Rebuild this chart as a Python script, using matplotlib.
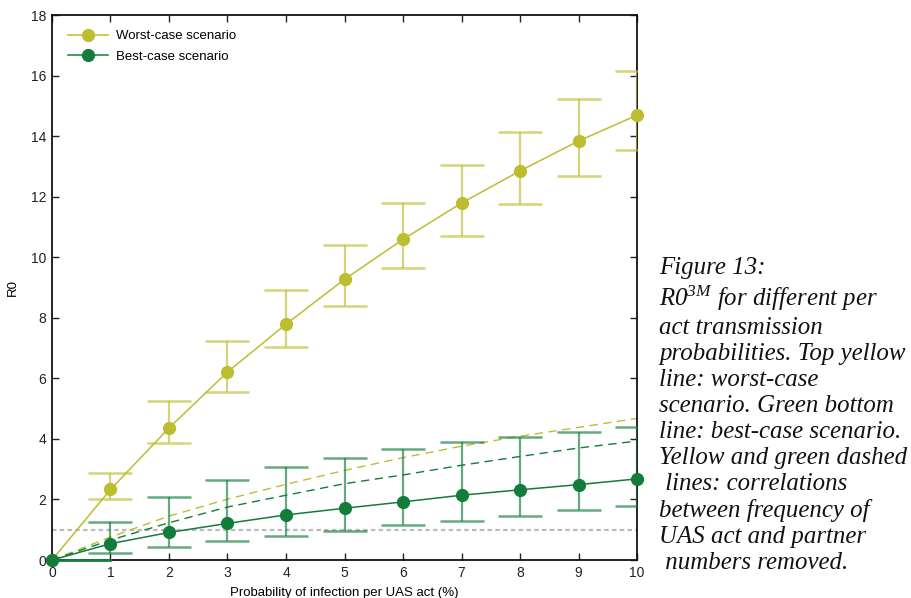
import matplotlib
matplotlib.use("Agg")
import matplotlib.pyplot as plt

# Per-act infection probability (%)
prob = [0, 1, 2, 3, 4, 5, 6, 7, 8, 9, 10]

# Worst-case scenario: R0 with lower / upper bounds
worst = [0, 2.33, 4.36, 6.21, 7.79, 9.27, 10.59, 11.79, 12.85, 13.84, 14.69]
worst_lo = [0, 2.03, 3.88, 5.55, 7.03, 8.39, 9.64, 10.70, 11.76, 12.68, 13.53]
worst_hi = [0, 2.89, 5.26, 7.23, 8.92, 10.40, 11.78, 13.03, 14.15, 15.21, 16.16]

# Best-case scenario: R0 with lower / upper bounds
best = [0, 0.54, 0.91, 1.21, 1.49, 1.71, 1.92, 2.14, 2.32, 2.49, 2.68]
best_lo = [0, 0.23, 0.44, 0.62, 0.79, 0.97, 1.15, 1.30, 1.46, 1.65, 1.78]
best_hi = [0, 1.26, 2.07, 2.64, 3.06, 3.38, 3.67, 3.89, 4.06, 4.24, 4.38]

# Correlations between UAS act frequency and partner numbers removed
worst_nocorr = [0, 0.76, 1.45, 2.01, 2.50, 2.96, 3.38, 3.76, 4.09, 4.38, 4.68]
best_nocorr = [0, 0.66, 1.23, 1.75, 2.14, 2.52, 2.81, 3.13, 3.42, 3.70, 3.93]

threshold = 1.0

YELLOW = "#BDBD30"
GREEN = "#127D3B"

plt.rcParams["font.family"] = ["Liberation Sans", "DejaVu Sans"]
plt.rcParams["mathtext.fontset"] = "custom"
plt.rcParams["mathtext.it"] = "Liberation Serif:italic"
plt.rcParams["mathtext.rm"] = "Liberation Serif:italic"

fig = plt.figure(figsize=(9.12, 5.98), dpi=100)
ax = fig.add_axes([0.057, 0.0635, 0.6415, 0.9114])

ax.axhline(threshold, color="#BBBBBB", lw=1.6, ls=(0, (2, 1.5)), zorder=1)

ax.plot(prob, worst_nocorr, color=YELLOW, lw=1.0, ls=(0, (6, 4)), zorder=2)
ax.plot(prob, best_nocorr, color=GREEN, lw=1.0, ls=(0, (6, 4)), zorder=2)

def bounds(mid, lo, hi):
    return [[m - l for m, l in zip(mid, lo)], [h - m for m, h in zip(mid, hi)]]

for y, lo, hi, c, lab in [(worst, worst_lo, worst_hi, YELLOW, "Worst-case scenario"),
                          (best, best_lo, best_hi, GREEN, "Best-case scenario")]:
    ax.errorbar(prob[1:], y[1:], yerr=bounds(y[1:], lo[1:], hi[1:]), fmt="none",
                ecolor=c, alpha=0.65, elinewidth=1.6, capsize=15.5, capthick=1.8,
                zorder=3)
    ax.plot(prob, y, color=c, lw=1.1, marker="o", ms=8.5, label=lab, zorder=4,
            clip_on=False)

ax.plot(prob[:2], [0, 0], color=GREEN, lw=2.0, zorder=4, clip_on=False)

ax.set_xlim(0, 10)
ax.set_ylim(0, 18)
ax.set_xticks(range(0, 11))
ax.set_yticks(range(0, 19, 2))
ax.tick_params(direction="in", length=5, width=1, top=True, right=True,
               labelsize=10, pad=4, colors="#222222")
for s in ax.spines.values():
    s.set_linewidth(1.3)
    s.set_color("#111111")

ax.set_xlabel("Probability of infection per UAS act (%)", fontsize=9.5, labelpad=5)
ax.set_ylabel("R0", fontsize=9.5, labelpad=9)

ax.legend(loc="upper left", frameon=False, fontsize=9.5, handlelength=3,
          borderaxespad=0.75, labelspacing=0.6, handletextpad=0.6,
          bbox_to_anchor=(0.002, 1.0))

caption = ("Figure 13:\n"
           "R0$^{3M}$ for different per\n"
           "act transmission\n"
           "probabilities. Top yellow\n"
           "line: worst-case\n"
           "scenario. Green bottom\n"
           "line: best-case scenario.\n"
           "Yellow and green dashed\n"
           " lines: correlations\n"
           "between frequency of\n"
           "UAS act and partner\n"
           " numbers removed.")
fig.text(0.723, 0.571, caption, family="Liberation Serif", style="italic",
         fontsize=17.9, va="top", ha="left", linespacing=1.235, color="#111111")

fig.savefig("out.png", dpi=100)
